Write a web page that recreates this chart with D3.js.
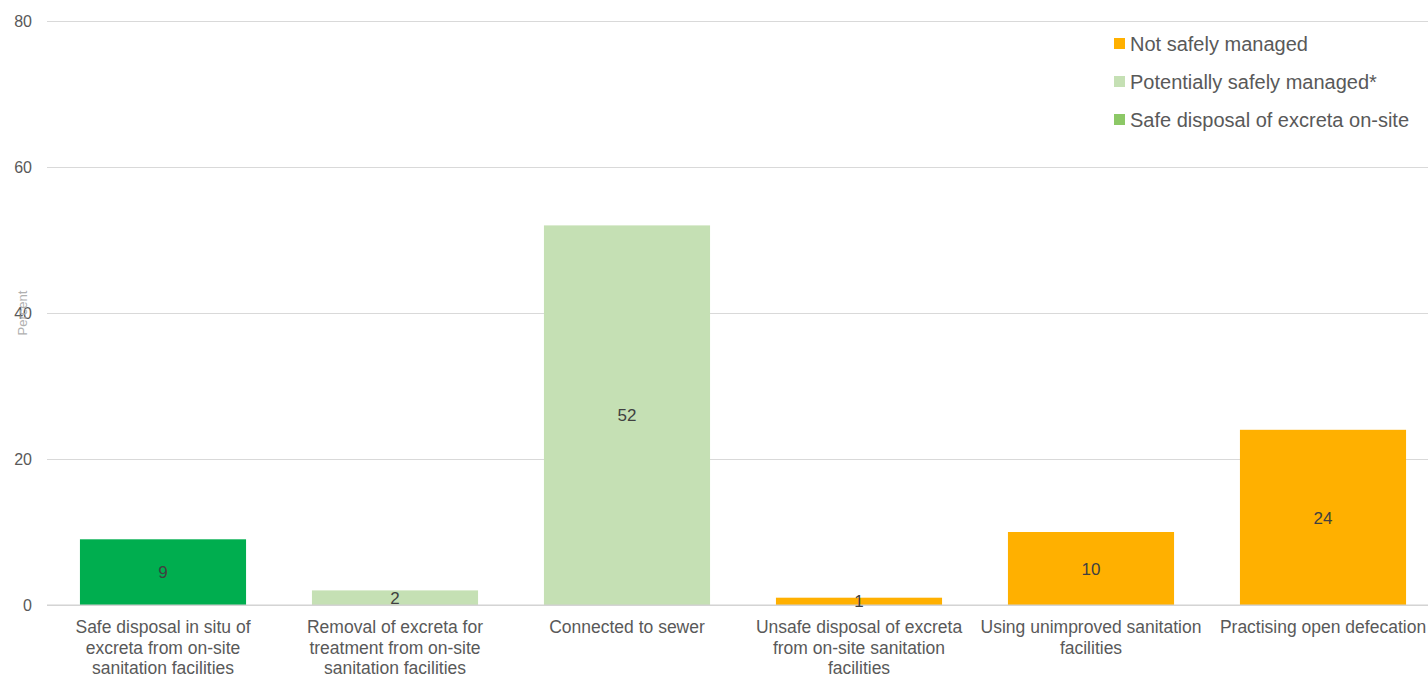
<!DOCTYPE html>
<html>
<head>
<meta charset="utf-8">
<script src="https://cdn.jsdelivr.net/npm/d3@7"></script>
<style>
  html, body { margin: 0; padding: 0; background: #fff; }
  svg { display: block; font-family: "Liberation Sans", Arial, sans-serif; }
</style>
</head>
<body>
<svg id="chart" width="1428" height="677"></svg>
<script>
// Sanitation service categories and their shares (percent)
const categories = [
  "Safe disposal in situ of excreta from on-site sanitation facilities",
  "Removal of excreta for treatment from on-site sanitation facilities",
  "Connected to sewer",
  "Unsafe disposal of excreta from on-site sanitation facilities",
  "Using unimproved sanitation facilities",
  "Practising open defecation"
];
const values = [9, 2, 52, 1, 10, 24];
const groups = ["safe", "potential", "potential", "not", "not", "not"];

const legendLabels = ["Not safely managed", "Potentially safely managed*", "Safe disposal of excreta on-site"];
const legendKeys = ["not", "potential", "safeLegend"];
const yTicks = [0, 20, 40, 60, 80];

const colors = {
  safe: "#00AE4F",
  safeLegend: "#8CC866",
  potential: "#C5E0B4",
  not: "#FFB000"
};

const svg = d3.select("#chart");
const W = 1428, H = 677;
const margin = { left: 47, right: -11, top: 21, bottom: 72 };

const x = d3.scaleBand()
  .domain(categories)
  .range([margin.left, W - margin.right])
  .paddingInner(0.284)
  .paddingOuter(0.142);

const y = d3.scaleLinear()
  .domain([0, 80])
  .range([H - margin.bottom, margin.top]);

// Gridlines and y tick labels
const yAxis = d3.axisLeft(y)
  .tickValues(yTicks)
  .tickSize(-(W - margin.left))
  .tickPadding(15)
  .tickFormat(d3.format("d"));

const gy = svg.append("g")
  .attr("transform", `translate(${margin.left},0)`)
  .call(yAxis);
gy.select(".domain").remove();
gy.selectAll(".tick line").attr("stroke", "#d9d9d9").attr("stroke-width", 1);
gy.selectAll(".tick text")
  .attr("fill", "#595959")
  .style("font-size", "16px");

// Y axis title
svg.append("text")
  .attr("transform", `translate(27,${y(40)}) rotate(-90)`)
  .attr("text-anchor", "middle")
  .attr("fill", "#b0b0b0")
  .style("font-size", "13px")
  .text("Percent");

// Bars
svg.append("g").selectAll("rect")
  .data(values)
  .join("rect")
  .attr("x", (d, i) => x(categories[i]))
  .attr("y", d => y(d))
  .attr("width", x.bandwidth())
  .attr("height", d => y(0) - y(d))
  .attr("fill", (d, i) => colors[groups[i]]);

// Baseline
svg.append("line")
  .attr("x1", margin.left).attr("x2", W)
  .attr("y1", y(0)).attr("y2", y(0))
  .attr("stroke", "#d0d0d0");

// Value labels, centred in each bar
svg.append("g").selectAll("text")
  .data(values)
  .join("text")
  .attr("x", (d, i) => x(categories[i]) + x.bandwidth() / 2)
  .attr("y", d => (y(d) + y(0)) / 2)
  .attr("dy", "0.36em")
  .attr("text-anchor", "middle")
  .attr("fill", "#404040")
  .style("font-size", "17px")
  .text(d => d);

// Category labels, wrapped below the bars
const xAxis = d3.axisBottom(x).tickSize(0).tickPadding(0);
const gx = svg.append("g")
  .attr("transform", `translate(0,${y(0)})`)
  .call(xAxis);
gx.select(".domain").remove();
gx.selectAll(".tick text")
  .attr("fill", "#595959")
  .attr("dy", null)
  .style("font-size", "17.5px")
  .call(wrap, 224);

function wrap(texts, width) {
  const first = 28, step = 20.5;
  texts.each(function () {
    const text = d3.select(this);
    const words = text.text().split(/\s+/);
    text.text(null);
    let line = [];
    let lineNo = 0;
    let tspan = text.append("tspan").attr("x", 0).attr("y", first);
    for (const w of words) {
      line.push(w);
      tspan.text(line.join(" "));
      if (tspan.node().getComputedTextLength() > width && line.length > 1) {
        line.pop();
        tspan.text(line.join(" "));
        line = [w];
        lineNo++;
        tspan = text.append("tspan").attr("x", 0).attr("y", first + lineNo * step).text(w);
      }
    }
  });
}

// Legend
const legend = svg.append("g").attr("transform", "translate(1114,44)");
const items = legend.selectAll("g")
  .data(legendLabels)
  .join("g")
  .attr("transform", (d, i) => `translate(0,${i * 38})`);
items.append("rect")
  .attr("x", 0).attr("y", -6)
  .attr("width", 11).attr("height", 11)
  .attr("fill", (d, i) => colors[legendKeys[i]]);
items.append("text")
  .attr("x", 16)
  .attr("y", 0)
  .attr("dy", "0.35em")
  .attr("fill", "#595959")
  .style("font-size", "20px")
  .text(d => d);
</script>
</body>
</html>
